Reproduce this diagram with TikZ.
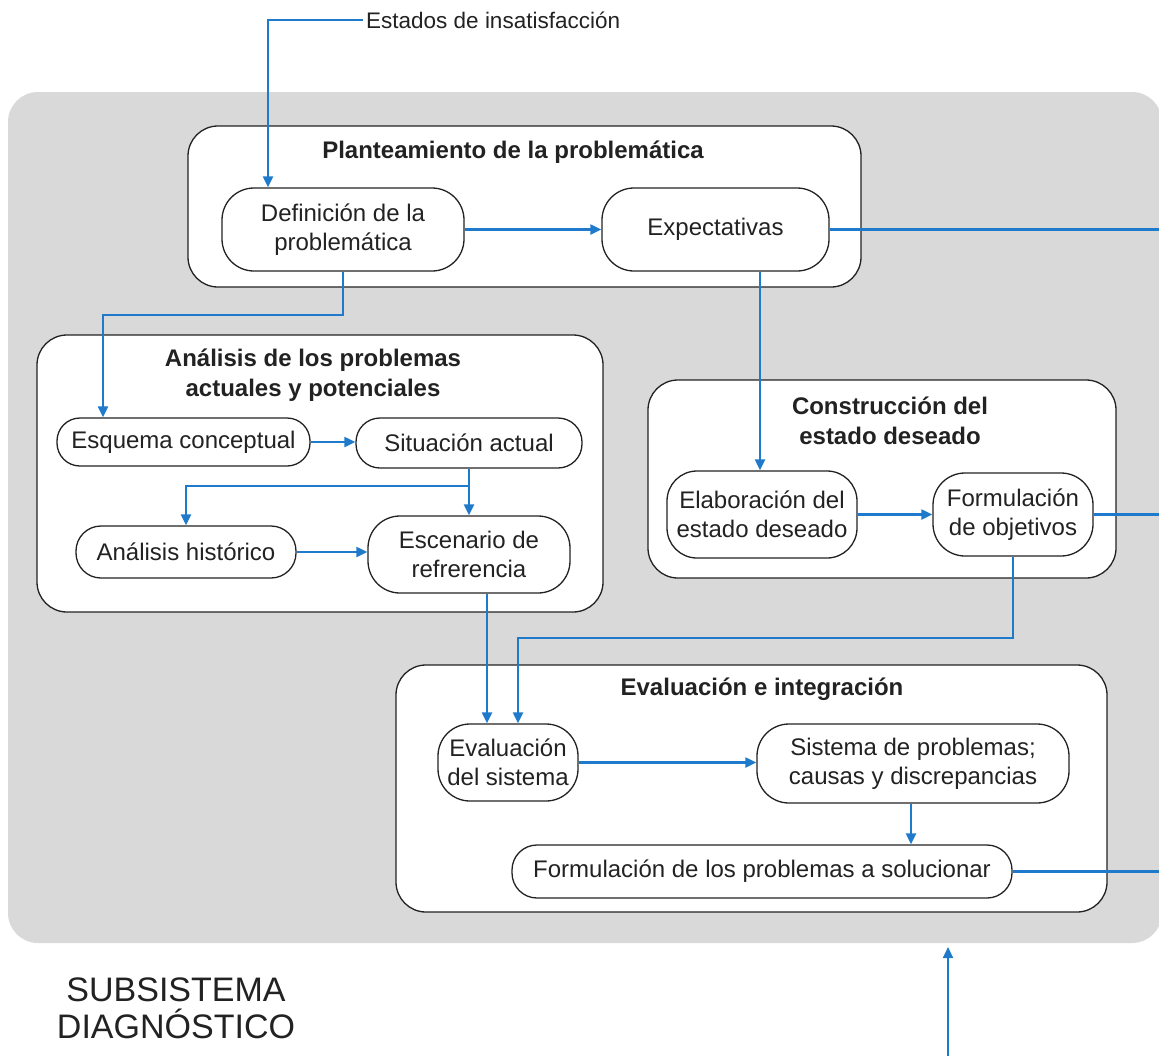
\documentclass[tikz,border=0pt]{standalone}
\usepackage{fontspec}
\setmainfont{Liberation Sans}
\usetikzlibrary{arrows.meta}
\definecolor{bgray}{HTML}{D9D9D9}
\definecolor{fblue}{HTML}{1F7ACC}
\definecolor{txt}{HTML}{222222}
\begin{document}
\begin{tikzpicture}[x=1pt,y=-1pt,
 grp/.style={draw=txt, line width=1.3pt, fill=white, rounded corners=30pt, inner sep=0pt},
 item/.style={draw=txt, line width=1.3pt, fill=white, rounded corners=#1, inner sep=0pt, align=center, font=\fontsize{24}{29}\selectfont, text=txt},
 item/.default=28pt,
 ttl/.style={align=center, font=\fontsize{24}{30}\selectfont\bfseries, text=txt, inner sep=0pt},
 arr/.style={draw=fblue, line width=2.1pt, -{Triangle[length=11pt,width=10pt]}},
 ln/.style={draw=fblue, line width=2.1pt}]
\useasboundingbox (0,0) rectangle (1159,1055);
\fill[white] (0,0) rectangle (1159,1055);
% background
\fill[bgray, rounded corners=30pt] (8,92) rectangle (1162,943);
% group boxes
\node[grp, minimum width=673pt, minimum height=161pt] (g1) at (524.5,206.5) {};
\node[grp, minimum width=566pt, minimum height=277pt] (g2) at (320,473.5) {};
\node[grp, minimum width=468pt, minimum height=198pt] (g3) at (882,479) {};
\node[grp, minimum width=711pt, minimum height=247pt] (g4) at (751.5,788.5) {};
% titles
\node[ttl] (t1) at (513,152) {Planteamiento de la problemática};
\node[ttl] (t2) at (313,375) {Análisis de los problemas\\actuales y potenciales};
\node[ttl] (t3) at (890,421) {Construcción del\\estado deseado};
\node[ttl] (t4) at (762,689) {Evaluación e integración};
% items
\node[item=32pt, minimum width=242pt, minimum height=83pt] (def) at (343,229.5) {Definición de la\\problemática};
\node[item=32pt, minimum width=227pt, minimum height=83pt] (exp) at (715.5,229.5) {Expectativas};
\node[item=23pt, minimum width=253pt, minimum height=48pt] (esq) at (183.5,442) {Esquema conceptual};
\node[item=24pt, minimum width=226pt, minimum height=50pt] (sit) at (469,443) {Situación actual};
\node[item=25pt, minimum width=220pt, minimum height=52pt] (hist) at (186,552) {Análisis histórico};
\node[item=32pt, minimum width=202pt, minimum height=77pt] (esc) at (469,554.5) {Escenario de\\refrerencia};
\node[item=30pt, minimum width=190pt, minimum height=87pt] (elab) at (762,514.5) {Elaboración del\\estado deseado};
\node[item=32pt, minimum width=160pt, minimum height=83pt] (fobj) at (1013,514.5) {Formulación\\de objetivos};
\node[item=32pt, minimum width=140pt, minimum height=77pt] (eval) at (508,762.5) {Evaluación\\del sistema};
\node[item=32pt, minimum width=312pt, minimum height=79pt] (sis) at (913,763.5) {Sistema de problemas;\\causas y discrepancias};
\node[item=25pt, minimum width=500pt, minimum height=53pt] (fprob) at (762,871.5) {Formulación de los problemas a solucionar};
% outer labels
\node[anchor=west, inner sep=0pt, font=\fontsize{22.5}{27}\selectfont, text=txt] (est) at (366,20) {Estados de insatisfacción};
\node[align=center, inner sep=0pt, font=\fontsize{34}{37}\selectfont, text=txt] (sub) at (176,1008) {SUBSISTEMA\\DIAGNÓSTICO};
% helper coordinates
\coordinate (R) at (1160,0);
\coordinate (xin) at (268,0);
\coordinate (xesq) at (103,0);
\coordinate (xesc) at (487,0);
\coordinate (xev) at (518,0);
\coordinate (xexp) at (760,0);
\coordinate (xsis) at (911,0);
\coordinate (bin) at (948,1058);
\coordinate (bout) at (948,947);
% connectors
\draw[arr] ([xshift=-3pt]est.west) -| (def.north -| xin);
\draw[arr] (def.east) -- (def.east -| exp.west);
\draw[arr] (def.south) -- ++(0,43) -| (esq.north -| xesq);
\draw[arr] (esq.east) -- (esq.east -| sit.west);
\draw[arr] (sit.south) -- (esc.north);
\draw[arr] ([yshift=-17pt]sit.south) -| (hist.north);
\draw[arr] (hist.east) -- (hist.east -| esc.west);
\draw[arr] (esc.south -| xesc) -- (eval.north -| xesc);
\draw[arr] (exp.south -| xexp) -- (elab.north -| xexp);
\draw[arr] (elab.east) -- (elab.east -| fobj.west);
\draw[arr] (fobj.south) -- ++(0,81) -| (eval.north -| xev);
\draw[arr] (eval.east) -- (eval.east -| sis.west);
\draw[arr] (sis.south -| xsis) -- (fprob.north -| xsis);
\draw[ln] (exp.east) -- (exp.east -| R);
\draw[ln] (fobj.east) -- (fobj.east -| R);
\draw[ln] (fprob.east) -- (fprob.east -| R);
\draw[arr] (bin) -- (bout);
\end{tikzpicture}
\end{document}
